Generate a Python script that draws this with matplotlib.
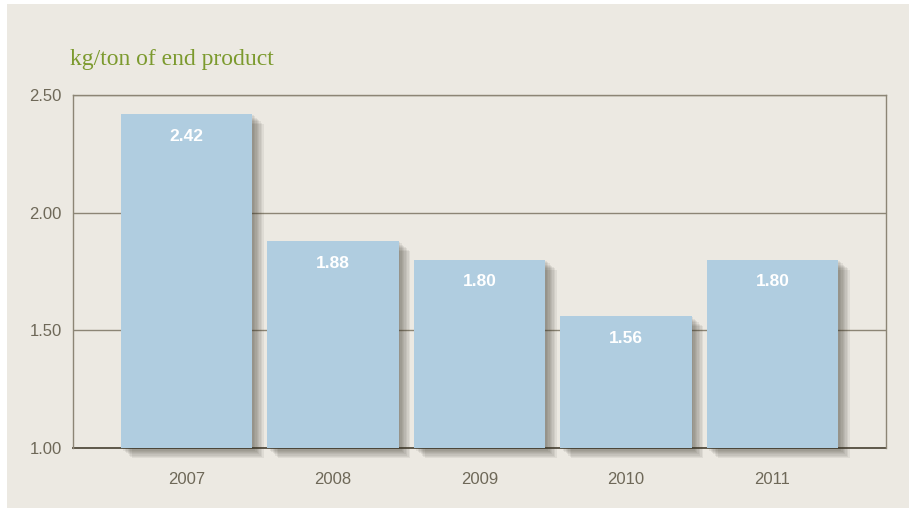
import matplotlib.pyplot as plt
import matplotlib.patheffects as pe
from matplotlib.patches import Rectangle

# data
years = ['2007', '2008', '2009', '2010', '2011']
values = [2.42, 1.88, 1.80, 1.56, 1.80]
yticks = [1.00, 1.50, 2.00, 2.50]
unit_label = 'kg/ton of end product'

bg = '#ECE9E2'
bar_col = '#B0CDE0'
line_col = '#8C8575'
text_col = '#6E6858'

fig = plt.figure(figsize=(9.09, 5.08), dpi=100, facecolor='white')
# beige panel
fig.patches.append(Rectangle((7 / 909, 0.0), 1.0, 1 - 4 / 508, transform=fig.transFigure,
                             facecolor=bg, edgecolor='none', zorder=-10))

ax = fig.add_axes([73 / 909, 1 - 448 / 508, (886 - 73) / 909, (448 - 95) / 508])
ax.set_facecolor('none')

# shadow stack to fake a soft drop shadow
shadow = [pe.SimplePatchShadow(offset=(d, -d * 0.9), shadow_rgbFace='#3a3529', alpha=0.075)
          for d in (1, 2, 3, 4, 5, 6, 7, 8)]
bars = ax.bar(range(len(years)), [v - 1.0 for v in values], bottom=1.0, width=0.9,
              color=bar_col, zorder=3, clip_on=False)
for b in bars:
    b.set_path_effects(shadow + [pe.Normal()])

for i, v in enumerate(values):
    ax.annotate(f'{v:.2f}', (i, v), xytext=(0, -16), textcoords='offset points',
                ha='center', va='center', color='white', fontsize=12.5, fontweight='bold',
                family='Liberation Sans', zorder=5)

ax.set_xlim(-0.775, len(years) - 1 + 0.775)
ax.set_ylim(1.0, 2.5)
ax.set_yticks(yticks)
ax.set_yticklabels([f'{t:.2f}' for t in yticks])
ax.set_xticks(range(len(years)))
ax.set_xticklabels(years)
ax.tick_params(length=0, colors=text_col, labelsize=12, pad=17)
ax.tick_params(axis='y', pad=8)
for lab in ax.get_xticklabels() + ax.get_yticklabels():
    lab.set_family('Liberation Sans')

ax.grid(axis='y', color=line_col, linewidth=1.0, zorder=0)
for s in ax.spines.values():
    s.set_color(line_col)
    s.set_linewidth(1.0)
ax.spines['bottom'].set_color('#5e584a')
ax.spines['bottom'].set_linewidth(1.4)
ax.spines['bottom'].set_zorder(2)

fig.text(70 / 909, 1 - 60 / 508, unit_label, color='#7C9A2E', fontsize=17,
         family='Liberation Serif', va='center', ha='left')

fig.savefig('out.png', dpi=100, facecolor=fig.get_facecolor())
